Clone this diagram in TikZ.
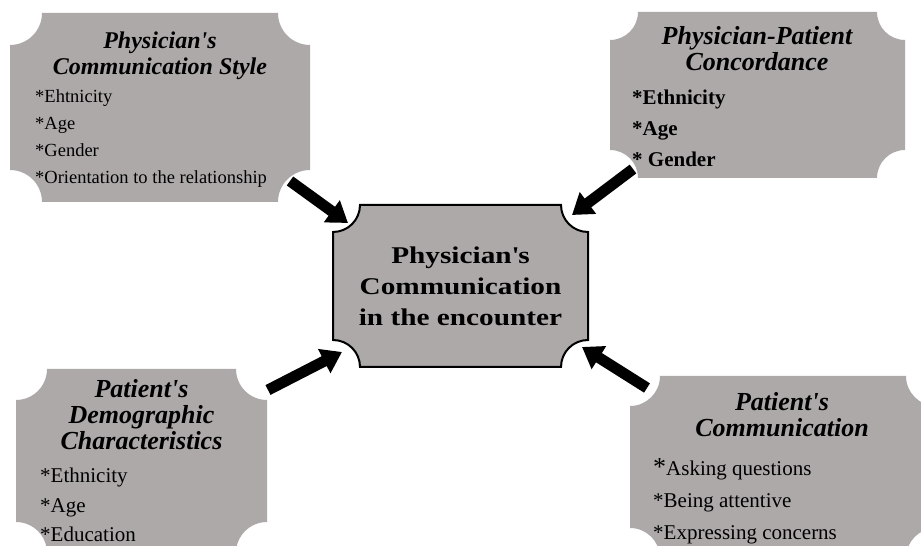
\documentclass[tikz,border=0pt]{standalone}
\usepackage{fontspec}
\setmainfont{Liberation Serif}
\newfontfamily\widebf{Liberation Serif Bold}[FakeStretch=1.22]
\usetikzlibrary{positioning,calc,arrows.meta}
\definecolor{boxgray}{RGB}{173,169,169}

% box with inward rounded corners, drawn round an (empty) node
\newcommand{\plaque}[3][]{%
  \path[#1] ($(#2.north west)+(#3,0)$) -- ($(#2.north east)+(-#3,0)$)
    arc[start angle=180,end angle=270,radius=#3]
    -- ($(#2.south east)+(0,#3)$)
    arc[start angle=90,end angle=180,radius=#3]
    -- ($(#2.south west)+(#3,0)$)
    arc[start angle=0,end angle=90,radius=#3]
    -- ($(#2.north west)+(0,-#3)$)
    arc[start angle=270,end angle=360,radius=#3] -- cycle;}
\newcommand{\apos}{\textquotesingle}

\tikzset{
  boxarea/.style={rectangle, inner sep=0pt, outer sep=0pt},
  boxtitle/.style={anchor=north, align=center, inner sep=0pt,
    font=\fontsize{26}{26}\selectfont\bfseries\itshape},
  boxitems/.style={anchor=north west, align=left, inner sep=0pt,
    font=\fontsize{21}{29.5}\selectfont},
  fatarrow/.style={line width=11pt, -{Triangle[length=20pt,width=26pt]}},
}

\begin{document}
\begin{tikzpicture}[x=1pt,y=1pt]
	\useasboundingbox (0,0) rectangle (921,546);
	\clip (0,0) rectangle (921,546);

	% box areas
	\node[boxarea, minimum width=300pt, minimum height=189pt] (psty) at (160,438.5) {};
	\node[boxarea, minimum width=295pt, minimum height=166pt] (conc) at (757.5,451) {};
	\node[boxarea, minimum width=251pt, minimum height=184pt] (demo) at (141.5,85) {};
	\node[boxarea, minimum width=306pt, minimum height=182pt] (pcom) at (783,79) {};
	\node[boxarea, minimum width=255pt, minimum height=162pt] (enc) at (460.5,260) {};

	\plaque[fill=boxgray]{psty}{32pt}
	\plaque[fill=boxgray]{conc}{28pt}
	\plaque[fill=boxgray]{demo}{31pt}
	\plaque[fill=boxgray]{pcom}{30pt}
	\plaque[fill=boxgray, draw=black, line width=2pt]{enc}{27pt}

	% texts
	\node[boxtitle, font=\fontsize{24}{26}\selectfont\bfseries\itshape] (pstyT) at (160,514) {Physician\apos s\\Communication Style};
	\node[boxitems, font=\fontsize{18.5}{27}\selectfont] (pstyL) at (35,457) {*Ehtnicity\\*Age\\*Gender\\*Orientation to the relationship};

	\node[boxtitle] (concT) at (757,520) {Physician-Patient\\Concordance};
	\node[boxitems, font=\fontsize{21}{31}\selectfont\bfseries] (concL) at (632,456) {*Ethnicity\\*Age\\* Gender};

	\node[boxtitle] (demoT) at (141.5,167) {Patient\apos s\\Demographic\\Characteristics};
	\node[boxitems] (demoL) at (40,78) {*Ethnicity\\*Age\\*Education};

	\node[boxtitle] (pcomT) at (782,154) {Patient\apos s\\Communication};
	\node[boxitems, font=\fontsize{21}{32}\selectfont] (pcomL) at (653,88) {{\fontsize{26}{26}\selectfont*}Asking questions\\*Being attentive\\*Expressing concerns};

	\node[align=center, inner sep=0pt, font=\fontsize{24}{31}\selectfont\widebf] (encT) at (enc) {Physician\apos s\\Communication\\in the encounter};

	% arrows into the centre
	\draw[fatarrow] ($(psty.south east)+(-20,21)$) -- ($(enc.north west)+(15,-18)$);
	\draw[fatarrow] ($(conc.south west)+(23,9)$) -- ($(enc.north east)+(-16,-10)$);
	\draw[fatarrow] ($(demo.north east)+(1,-21)$) -- ($(enc.south west)+(9,15)$);
	\draw[fatarrow] ($(pcom.north west)+(17,-12)$) -- ($(enc.south east)+(-6,20)$);
\end{tikzpicture}
\end{document}
